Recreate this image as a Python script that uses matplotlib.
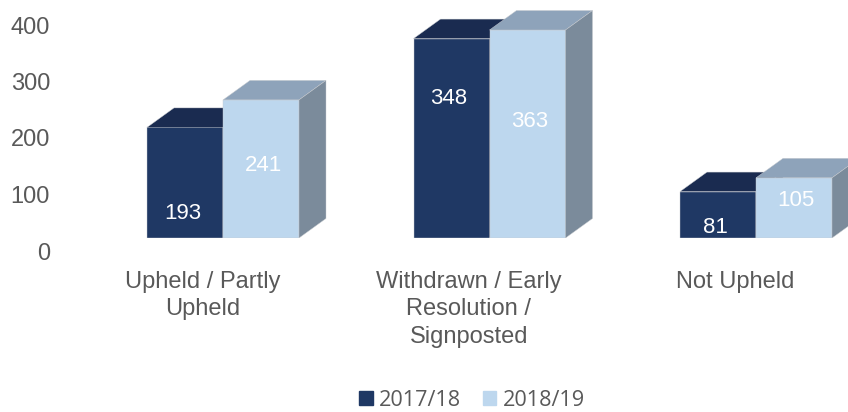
import matplotlib
matplotlib.use('Agg')
import matplotlib.pyplot as plt
from matplotlib.patches import Patch

categories = ['Upheld / Partly\nUpheld', 'Withdrawn / Early\nResolution /\nSignposted', 'Not Upheld']
years = ['2017/18', '2018/19']
values_1718 = [193, 348, 81]
values_1819 = [241, 363, 105]
y_ticks = [0, 100, 200, 300, 400]

# layout stuff, measured in px on the 848x412 picture
W, H = 848, 412
base_px = 238
unit_px = 0.573
step_px = 266.5
first_px = 223
bar_w = 76 / step_px
dx = 27 / step_px
dy = 19.5 / unit_px
label_h_1718 = [43, 243, 18]
label_h_1819 = [127, 204, 66]
cat_label_x = [-0.075, 0.923, 1.921]

front = ['#1F3864', '#BDD7EE']
top = ['#1A2B50', '#8EA3BA']
side = ['#17264A', '#7B8B9B']
edge = '#C9CCD0'
grey = '#595959'

plt.rcParams['font.family'] = ['Liberation Sans', 'DejaVu Sans']
fig = plt.figure(figsize=(W / 100, H / 100), dpi=100)

# bars live in an axes whose bottom edge is the 3D floor
ax = fig.add_axes([0, 1 - base_px / H, 1, base_px / H])
ax.set_xlim(-first_px / step_px, (W - first_px) / step_px)
ax.set_ylim(0, base_px / unit_px)
ax.patch.set_alpha(0)
ax.set_yticks([])
for s in ax.spines.values():
    s.set_visible(False)


def draw_bars(xs, vals, i):
    ax.bar(xs, vals, width=bar_w, align='edge', color=front[i], edgecolor=edge, linewidth=0.3, zorder=3 + i)
    for x, v in zip(xs, vals):
        r = x + bar_w
        ax.fill([x, r, r + dx, x + dx], [v, v, v + dy, v + dy], color=top[i], ec=edge, lw=0.3, zorder=3 + i)
        ax.fill([r, r + dx, r + dx, r], [0, dy, v + dy, v], color=side[i], ec=edge, lw=0.3, zorder=3 + i)


x_dark = [i - bar_w for i in range(3)]
x_light = [i for i in range(3)]
draw_bars(x_dark, values_1718, 0)
draw_bars(x_light, values_1819, 1)

for x, lh, v in zip(x_dark, label_h_1718, values_1718):
    ax.text(x + bar_w / 2 - 2.5 / step_px, lh, str(v), color='white', fontsize=16, ha='center', va='center', zorder=6)
for x, lh, v in zip(x_light, label_h_1819, values_1819):
    ax.text(x + bar_w / 2 + 2 / step_px, lh, str(v), color='white', fontsize=16, ha='center', va='center', zorder=6)

ax.set_xticks(cat_label_x, categories, fontsize=17, color=grey, linespacing=1.34)
ax.tick_params(axis='x', length=0, pad=23.5)

# value axis sits a bit lower than the floor, as in a 3D chart
ay = fig.add_axes([0, 1 - 251 / H, 1, (251 - 25) / H])
ay.set_ylim(0, 400)
ay.set_xlim(0, W)
ay.patch.set_alpha(0)
ay.set_xticks([])
ay.set_yticks(y_ticks)
ay.tick_params(axis='y', length=0, direction='in', pad=-36, labelsize=17, labelcolor=grey)
for s in ay.spines.values():
    s.set_visible(False)

handles = [Patch(color=front[0]), Patch(color=front[1])]
fig.legend(handles, years, loc='center', bbox_to_anchor=(472 / W, 1 - 400 / H), ncol=2, frameon=False,
           prop={'family': 'Open Sans', 'size': 15.6}, labelcolor=grey, handlelength=0.62, handleheight=0.62,
           handletextpad=0.3, columnspacing=1.0)

fig.savefig('out.png', dpi=100)
